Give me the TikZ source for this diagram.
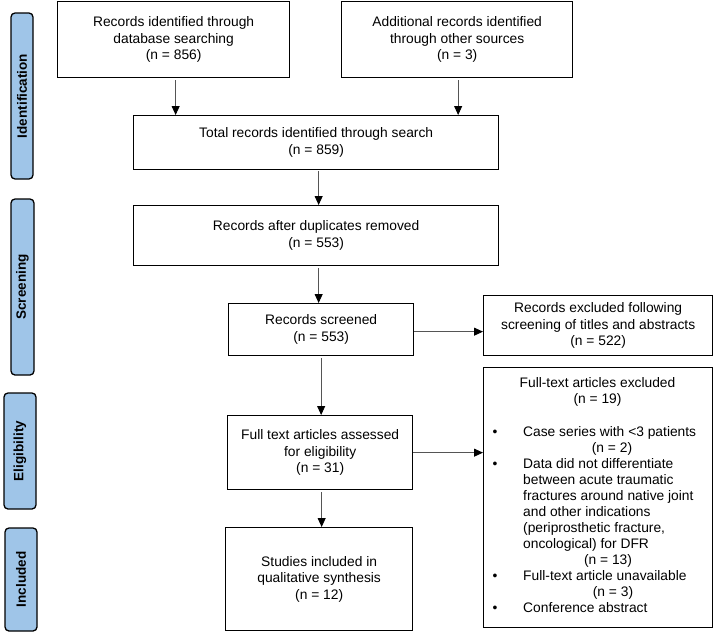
\documentclass[tikz,border=0pt]{standalone}
\usepackage{fontspec}
\setmainfont{Liberation Sans}
\usetikzlibrary{arrows.meta}
\definecolor{lblue}{HTML}{9FC5E8}
\definecolor{lgray}{HTML}{555555}
\begin{document}
\begin{tikzpicture}[x=1pt,y=-1pt,
  box/.style={draw=black, line width=1.3pt, inner sep=0pt, align=center, anchor=north west,
    font=\fontsize{13.8}{16.5}\selectfont},
  lab/.style={draw=black, line width=1.3pt, fill=lblue, rounded corners=4pt, rotate=90,
    inner sep=0pt, font=\bfseries\fontsize{13.5}{16}\selectfont},
  arr/.style={draw=lgray, line width=0.9pt, -{Triangle[length=9pt,width=8pt,color=black]}},
  txt/.style={inner sep=0pt, anchor=base west, font=\fontsize{13.8}{16.5}\selectfont},
  ctxt/.style={txt, anchor=base},
  bul/.style={txt, anchor=base}]
\useasboundingbox (0,0) rectangle (715,632);

% phase labels
\node[lab, minimum width=166pt, minimum height=22pt] (L1) at (22,96) {Identification};
\node[lab, minimum width=176pt, minimum height=23pt] (L2) at (22.5,287) {Screening};
\node[lab, minimum width=116pt, minimum height=32pt] (L3) at (20,451) {Eligibility};
\node[lab, minimum width=103pt, minimum height=32pt] (L4) at (21,579.5) {Included};

% main boxes
\node[box, minimum width=232pt, minimum height=76pt] (A) at (57,1)
  {Records identified through\\database searching\\(n = 856)};
\node[box, minimum width=231pt, minimum height=76pt] (B) at (341,1)
  {Additional records identified\\through other sources\\(n = 3)};
\node[box, minimum width=365pt, minimum height=54pt] (T) at (133,115)
  {Total records identified through search\\(n = 859)};
\node[box, minimum width=365pt, minimum height=60pt] (D) at (133,205)
  {Records after duplicates removed\\(n = 553)};
\node[box, minimum width=185pt, minimum height=52pt] (S) at (228,303)
  {Records screened\\(n = 553)};
\node[box, minimum width=185pt, minimum height=74pt] (E) at (227,415)
  {Full text articles assessed\\for eligibility\\(n = 31)};
\node[box, minimum width=187pt, minimum height=103pt] (I) at (225,527)
  {Studies included in\\qualitative synthesis\\(n = 12)};
\node[box, minimum width=229pt, minimum height=60pt] (R1) at (483,295)
  {Records excluded following\\screening of titles and abstracts\\(n = 522)};
\node[box, minimum width=229pt, minimum height=260pt] (R2) at (483,367) {};

% contents of R2
\node[ctxt] (r2a) at (597.5,387.5) {Full-text articles excluded};
\node[ctxt] (r2b) at (597.5,403.5) {(n = 19)};
\node[bul] (b1) at (495,436.5) {•};
\node[txt] (c1) at (523,436.5) {Case series with <3 patients};
\node[ctxt] (c2) at (612,452.5) {(n = 2)};
\node[bul] (b2) at (495,468.5) {•};
\node[txt] (c3) at (523,468.5) {Data did not differentiate};
\node[txt] (c4) at (523,484.5) {between acute traumatic};
\node[txt] (c5) at (523,500.5) {fractures around native joint};
\node[txt] (c6) at (523,516.5) {and other indications};
\node[txt] (c7) at (523,532.5) {(periprosthetic fracture,};
\node[txt] (c8) at (523,548.5) {oncological) for DFR};
\node[ctxt] (c9) at (608,564.5) {(n = 13)};
\node[bul] (b3) at (495,580.5) {•};
\node[txt] (c10) at (523,580.5) {Full-text article unavailable};
\node[ctxt] (c11) at (613,596.5) {(n = 3)};
\node[bul] (b4) at (495,612.5) {•};
\node[txt] (c12) at (523,612.5) {Conference abstract};

% connectors
\draw[arr] ([xshift=2pt,yshift=-2pt]A.south) -- ([xshift=2pt]A.south |- T.north);
\draw[arr] ([xshift=1pt,yshift=-2pt]B.south) -- ([xshift=1pt]B.south |- T.north);
\draw[arr] ([xshift=2.5pt,yshift=-1pt]T.south) -- ([xshift=2.5pt]T.south |- D.north);
\draw[arr] ([xshift=-2.5pt,yshift=-2pt]S.north |- D.south) -- ([xshift=-2.5pt]S.north);
\draw[arr] ([yshift=-2pt]S.south) -- (S.south |- E.north);
\draw[arr] ([xshift=1.5pt,yshift=-2pt]E.south) -- ([xshift=1.5pt]E.south |- I.north);
\draw[arr] ([yshift=-2pt]S.east) -- ([yshift=-2pt]S.east -| R1.west);
\draw[arr] (E.east) -- (E.east -| R2.west);
\end{tikzpicture}
\end{document}
